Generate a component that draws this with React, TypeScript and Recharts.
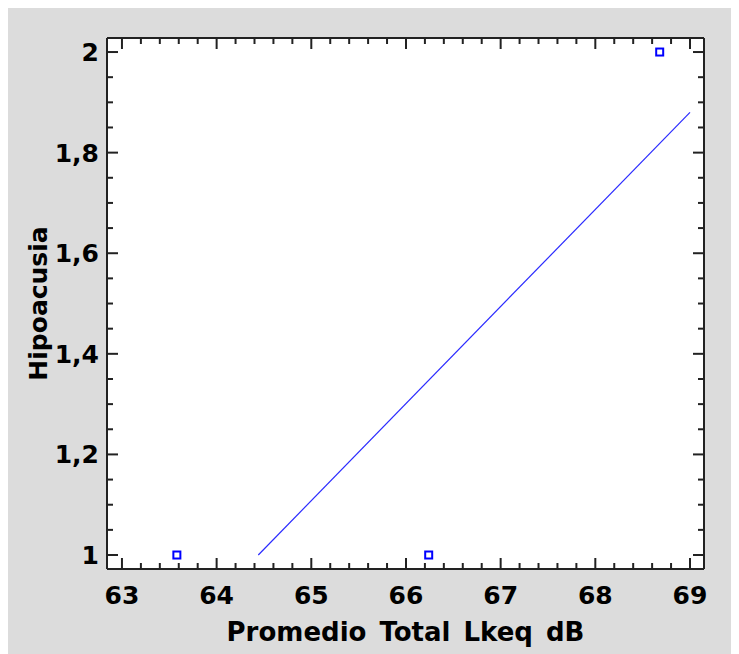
import React from 'react';
import { ScatterChart, Scatter, XAxis, YAxis, CartesianGrid, Label } from 'recharts';

// axis ranges and tick values
const xDomain = [62.842, 69.148];
const yDomain = [0.9722, 2.0279];
const xTicks = [63, 64, 65, 66, 67, 68, 69];
const yTicks = [1, 1.2, 1.4, 1.6, 1.8, 2];

// observations (Promedio Total Lkeq dB vs Hipoacusia)
const obsX = [63.58, 66.24, 68.68];
const obsY = [1, 1, 2];

// fitted regression line, end points
const fitX = [64.44, 69.0];
const fitY = [1.0, 1.88];

const points = obsX.map((x, i) => ({ x, y: obsY[i] }));
const fitLine = fitX.map((x, i) => ({ x, y: fitY[i] }));

// minor tick marks: 0.2 steps on x, 0.05 steps on y
const steps = (from: number, to: number, step: number) => {
  const out: number[] = [];
  for (let v = from; v <= to + 1e-9; v += step) out.push(Math.round(v * 100) / 100);
  return out;
};
const xMinor = steps(63, 69, 0.2);
const yMinor = steps(1, 2, 0.05);

const FONT = '"DejaVu Sans", Verdana, sans-serif';
const FRAME = '#222';
const MAJOR_LEN = 11;
const MINOR_LEN = 6;

const isMajor = (v: number, majors: number[]) => majors.some((m) => Math.abs(m - v) < 1e-6);

// inward tick marks drawn from the frame line
const makeTick = (side: 'top' | 'bottom' | 'left' | 'right', majors: number[]) => (props: any) => {
  const { x, y, payload } = props;
  const len = isMajor(payload.value, majors) ? MAJOR_LEN : MINOR_LEN;
  let x2 = x;
  let y2 = y;
  if (side === 'bottom') y2 = y - len;
  if (side === 'top') y2 = y + len;
  if (side === 'left') x2 = x + len;
  if (side === 'right') x2 = x - len;
  return <line x1={x} y1={y} x2={x2} y2={y2} stroke={FRAME} strokeWidth={2} />;
};

const tickText = { fill: '#000', fontSize: 25, fontWeight: 700, fontFamily: FONT };

const Square = ({ cx, cy }: any) => (
  <rect x={cx - 3.5} y={cy - 3.5} width={7} height={7} fill="none" stroke="#0000ff" strokeWidth={2} />
);

const XTitle = ({ viewBox }: any) => (
  <text
    x={viewBox.x + viewBox.width / 2}
    y={viewBox.y + 72}
    textAnchor="middle"
    fontSize={26}
    fontWeight={700}
    fontFamily={FONT}
    wordSpacing={4}
    fill="#000"
  >
    Promedio Total Lkeq dB
  </text>
);

const YTitle = ({ viewBox }: any) => {
  const x = viewBox.x + 41;
  const y = viewBox.y + viewBox.height / 2;
  return (
    <text
      x={x}
      y={y}
      transform={`rotate(-90, ${x}, ${y})`}
      textAnchor="middle"
      fontSize={25}
      fontWeight={700}
      fontFamily={FONT}
      fill="#000"
    >
      Hipoacusia
    </text>
  );
};

export default function App() {
  return (
    <div style={{ background: '#dcdcdc', width: 733, height: 646, marginLeft: -2 }}>
      <ScatterChart width={733} height={646} margin={{ top: 30, right: 35, bottom: 0, left: 0 }}>
        <CartesianGrid horizontal={false} vertical={false} fill="#fff" fillOpacity={1} xAxisId="x" yAxisId="y" />

        {/* labelled axes */}
        <XAxis
          xAxisId="x"
          dataKey="x"
          type="number"
          domain={xDomain}
          allowDataOverflow
          ticks={xTicks}
          interval={0}
          height={85}
          tickSize={0}
          tickMargin={17}
          tickLine={false}
          axisLine={false}
          tick={tickText}
        >
          <Label content={<XTitle />} />
        </XAxis>
        <YAxis
          yAxisId="y"
          dataKey="y"
          type="number"
          domain={yDomain}
          allowDataOverflow
          ticks={yTicks}
          interval={0}
          width={101}
          tickSize={0}
          tickMargin={8}
          tickLine={false}
          axisLine={false}
          tick={tickText}
          tickFormatter={(v: number) => String(v).replace('.', ',')}
        >
          <Label content={<YTitle />} />
        </YAxis>

        {/* frame with inward ticks on all four sides */}
        <XAxis
          xAxisId="xb"
          dataKey="x"
          type="number"
          orientation="bottom"
          mirror
          domain={xDomain}
          allowDataOverflow
          ticks={xMinor}
          interval={0}
          tickSize={0}
          tickMargin={0}
          tickLine={false}
          axisLine={{ stroke: FRAME, strokeWidth: 2 }}
          tick={makeTick('bottom', xTicks)}
        />
        <XAxis
          xAxisId="xt"
          dataKey="x"
          type="number"
          orientation="top"
          mirror
          domain={xDomain}
          allowDataOverflow
          ticks={xMinor}
          interval={0}
          tickSize={0}
          tickMargin={0}
          tickLine={false}
          axisLine={{ stroke: FRAME, strokeWidth: 2 }}
          tick={makeTick('top', xTicks)}
        />
        <YAxis
          yAxisId="yl"
          dataKey="y"
          type="number"
          orientation="left"
          mirror
          domain={yDomain}
          allowDataOverflow
          ticks={yMinor}
          interval={0}
          tickSize={0}
          tickMargin={0}
          tickLine={false}
          axisLine={{ stroke: FRAME, strokeWidth: 2 }}
          tick={makeTick('left', yTicks)}
        />
        <YAxis
          yAxisId="yr"
          dataKey="y"
          type="number"
          orientation="right"
          mirror
          domain={yDomain}
          allowDataOverflow
          ticks={yMinor}
          interval={0}
          tickSize={0}
          tickMargin={0}
          tickLine={false}
          axisLine={{ stroke: FRAME, strokeWidth: 2 }}
          tick={makeTick('right', yTicks)}
        />

        <Scatter
          xAxisId="x"
          yAxisId="y"
          data={fitLine}
          line={{ stroke: '#2a2aff', strokeWidth: 1.2 }}
          shape={() => null}
          isAnimationActive={false}
        />
        <Scatter xAxisId="x" yAxisId="y" data={points} shape={<Square />} isAnimationActive={false} />
      </ScatterChart>
    </div>
  );
}
